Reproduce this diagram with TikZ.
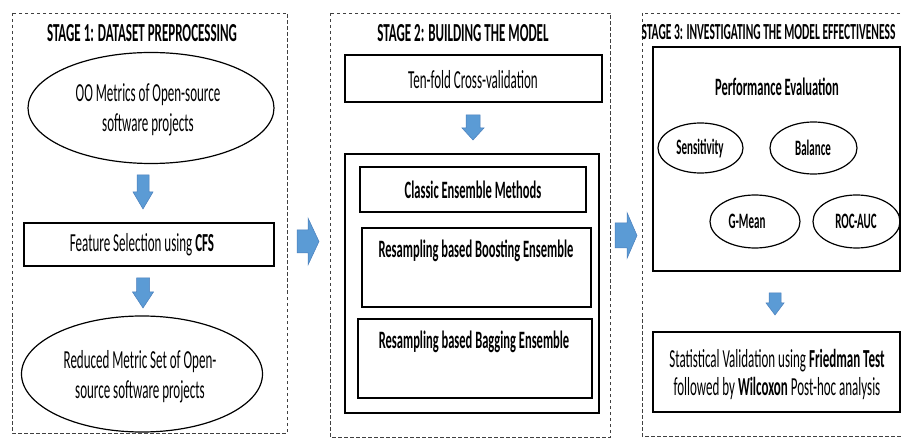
\documentclass[tikz,border=0pt]{standalone}
\usepackage{fontspec}
\setmainfont{Carlito}[FakeStretch=0.5]
\usetikzlibrary{shapes.geometric}
\definecolor{arrowblue}{HTML}{5B9BD5}
\definecolor{arrowedge}{HTML}{4A7EBB}

% block arrows: down (x, top, head start, tip, shaft half width, head half width)
\newcommand\blkdown[6]{%
  \filldraw[blockarrow] (#1-#5,#2) -- (#1+#5,#2) -- (#1+#5,#3) -- (#1+#6,#3)
    -- (#1,#4) -- (#1-#6,#3) -- (#1-#5,#3) -- cycle;}
% right (y, left, head start, tip, shaft half width, head half width)
\newcommand\blkright[6]{%
  \filldraw[blockarrow] (#2,#1-#5) -- (#3,#1-#5) -- (#3,#1-#6) -- (#4,#1)
    -- (#3,#1+#6) -- (#3,#1+#5) -- (#2,#1+#5) -- cycle;}

\begin{document}
\begin{tikzpicture}[x=1pt,y=-1pt,
  stage/.style={draw=black!75, dash pattern=on 3.5pt off 2.5pt, line width=0.7pt},
  box/.style={draw, line width=1.2pt, rectangle, inner sep=0pt},
  oval/.style={draw, line width=1.2pt, ellipse, inner sep=0pt},
  txt/.style={font=\fontsize{26}{30}\selectfont, align=center, inner sep=0pt},
  btxt/.style={font=\bfseries\fontsize{25}{29}\selectfont, align=center, inner sep=0pt},
  etxt/.style={font=\bfseries\fontsize{22}{26}\selectfont, inner sep=0pt},
  ttl/.style={font=\bfseries\fontsize{26}{30}\selectfont, inner sep=0pt},
  blockarrow/.style={fill=arrowblue, draw=arrowedge, line width=0.5pt},
]
\clip (0,0) rectangle (902,438);
\useasboundingbox (0,0) rectangle (902,438);

% ---------------- Stage 1 ----------------
\draw[stage] (12,13) rectangle (287,433);
\node[ttl] (t1) at (142,33) {STAGE 1: DATASET PREPROCESSING};
\node[oval, minimum width=246pt, minimum height=111pt] (oo) at (151,108) {};
\node[txt] (ootxt) at (148,110) {OO Metrics of Open-source\\software projects};
\blkdown{143}{175}{192}{209}{6}{10}
\node[box, minimum width=250pt, minimum height=43pt] (fs) at (149,244.5) {};
\node[txt] (fstxt) at (142,245) {Feature Selection using \textbf{CFS}};
\blkdown{143}{278}{292}{308}{6.5}{10.5}
\node[oval, minimum width=241pt, minimum height=116pt] (rm) at (142,374) {};
\node[txt] (rmtxt) at (140,377) {Reduced Metric Set of Open-\\source software projects};

\blkright{241.5}{297}{308}{319}{11.5}{23.5}

% ---------------- Stage 2 ----------------
\draw[stage] (330,13) rectangle (610,437);
\node[ttl] (t2) at (463,33) {STAGE 2: BUILDING THE MODEL};
\node[box, minimum width=257pt, minimum height=47pt] (cv) at (473.5,78.5) {};
\node[txt] (cvtxt) at (473,80) {Ten-fold Cross-validation};
\blkdown{473}{115}{128}{140}{7}{11}
\node[box, minimum width=254pt, minimum height=259pt] (ens) at (472,283.5) {};
\node[box, minimum width=226pt, minimum height=45pt] (cl) at (473,189.5) {};
\node[btxt] (cltxt) at (473,190) {Classic Ensemble Methods};
\node[box, minimum width=229pt, minimum height=79pt] (bo) at (476.5,267.5) {};
\node[btxt] (botxt) at (476,251) {Resampling based Boosting Ensemble};
\node[box, minimum width=234pt, minimum height=79pt] (ba) at (475,358.5) {};
\node[btxt] (batxt) at (474,342) {Resampling based Bagging Ensemble};

\blkright{235.5}{615}{627}{637}{12.5}{23}

% ---------------- Stage 3 ----------------
\draw[stage] (642,13) rectangle (906,436);
\node[ttl, font=\bfseries\fontsize{23}{27}\selectfont] (t3) at (768.5,32)
  {STAGE 3: INVESTIGATING THE MODEL EFFECTIVENESS};
\node[box, minimum width=247pt, minimum height=224pt] (pe) at (776.5,159) {};
\node[btxt] (petxt) at (777,87) {Performance Evaluation};
\node[oval, minimum width=85pt, minimum height=50pt] (se) at (700.5,148) {};
\node[etxt] (setxt) at (700,148) {Sensitivity};
\node[oval, minimum width=87pt, minimum height=52pt] (bl) at (813.5,148) {};
\node[etxt] (bltxt) at (813,148) {Balance};
\node[oval, minimum width=90pt, minimum height=53pt] (gm) at (755,221.5) {};
\node[etxt] (gmtxt) at (747,221) {G-Mean};
\node[oval, minimum width=87pt, minimum height=53pt] (ra) at (856.5,221.5) {};
\node[etxt] (ratxt) at (856,221) {ROC-AUC};
\blkdown{775}{293}{303}{315}{6}{9}
\node[box, minimum width=247pt, minimum height=80pt] (sv) at (776.5,372) {};
\node[txt, font=\fontsize{26}{28}\selectfont] (svtxt) at (777,374)
  {Statistical Validation using \textbf{Friedman Test}\\followed by \textbf{Wilcoxon} Post-hoc analysis};
\end{tikzpicture}
\end{document}
